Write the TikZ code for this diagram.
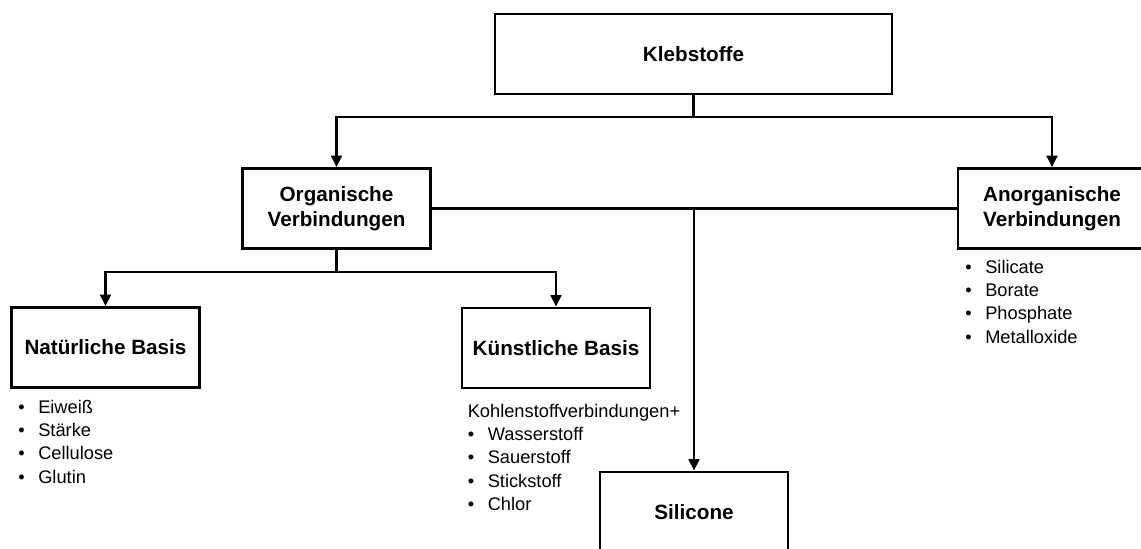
\documentclass[tikz,border=0pt]{standalone}
\usepackage{fontspec}
\setmainfont{Liberation Sans}
\usetikzlibrary{arrows.meta}
\newcommand\bul[1]{\makebox[15pt][l]{\textbullet}#1}
\begin{document}
\begin{tikzpicture}[x=0.75pt,y=-0.75pt,
  box/.style={draw,line width=2.2pt,inner sep=0pt,minimum width=141pt,minimum height=60pt,
    align=center,font=\fontsize{15.5}{18.75}\selectfont\bfseries},
  list/.style={anchor=base west,inner sep=0pt,font=\fontsize{13.7}{17.6}\selectfont},
  link/.style={line width=1.9pt},
  arr/.style={link,-{Triangle[length=8.5pt,width=8pt]}}]
\useasboundingbox(0,0)rectangle(1141,549);
\clip(0,0)rectangle(1141,549);
\node[box,minimum width=297.75pt](kleb)at(693.5,54){Klebstoffe};
\node[box](org)at(336.5,208.5){Organische\\Verbindungen};
\node[box](anorg)at(1052,208.5){Anorganische\\Verbindungen};
\node[box](nat)at(105.5,347.5){Natürliche Basis};
\node[box](kuen)at(556,348){Künstliche Basis};
\node[box](sil)at(694,512){Silicone};
% Aufzaehlungen
\node[list](natlist)at(18,413){\begin{tabular}[t]{@{}l@{}}
  \bul{Eiweiß}\\\bul{Stärke}\\\bul{Cellulose}\\\bul{Glutin}\end{tabular}};
\node[list](kuenlist)at(467.5,417){\begin{tabular}[t]{@{}l@{}}
  Kohlenstoffverbindungen+\\\bul{Wasserstoff}\\\bul{Sauerstoff}\\\bul{Stickstoff}\\\bul{Chlor}\end{tabular}};
\node[list](anorglist)at(965,273){\begin{tabular}[t]{@{}l@{}}
  \bul{Silicate}\\\bul{Borate}\\\bul{Phosphate}\\\bul{Metalloxide}\end{tabular}};
% Verbindungen
\path(kleb.south)--++(0,21.5)coordinate(k1);
\draw[link](kleb.south)--(k1);
\draw[arr](k1)-|(org.north);
\draw[arr](k1)-|(anorg.north);
\draw[link](org.east)--(anorg.west);
\coordinate(s1)at(org.east-|sil.north);
\draw[arr](s1)--(sil.north);
\path(org.south)--++(0,22)coordinate(o1);
\draw[link](org.south)--(o1);
\draw[arr](o1)-|(nat.north);
\draw[arr](o1)-|(kuen.north);
\end{tikzpicture}
\end{document}
